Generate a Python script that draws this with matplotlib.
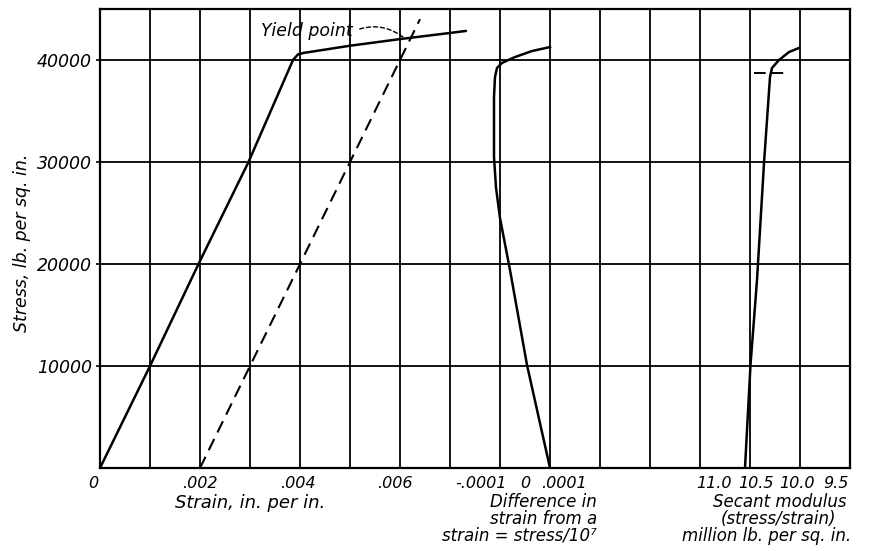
import numpy as np
import matplotlib
matplotlib.use('Agg')
import matplotlib.pyplot as plt
from matplotlib.transforms import ScaledTranslation

plt.rcParams['font.family'] = ['DejaVu Sans']
plt.rcParams['font.style'] = 'italic'

# stress-strain curve
strain = [0, 0.00100, 0.00197, 0.00297, 0.00386, 0.00396, 0.00408, 0.00500, 0.00600, 0.00700, 0.00732]
stress = [0, 10000, 20000, 30000, 40000, 40550, 40700, 41400, 42050, 42650, 42850]

# offset line for yield point
offset_strain = [0.002, 0.0064]
offset_stress = [0, 44000]

# difference in strain from strain = stress/10^7
diff = [0, -0.000046, -0.00008, -0.0001, -0.000108, -0.000112,
        -0.000112, -0.00011, -0.000106, -0.000096, -0.00007, -0.000036, 0]
diff_stress = [0, 10100, 19410, 24500, 27500, 30500,
               36370, 38330, 39220, 39710, 40290, 40880, 41270]

# secant modulus, million lb per sq in
modulus = [10.55, 10.495, 10.43, 10.36, 10.30, 10.28, 10.21, 10.11, 10.01]
mod_stress = [0, 10100, 18430, 29900, 38330, 39220, 40000, 40780, 41180]
yield_mod = [10.46, 10.15]
yield_mod_stress = [38730, 38730]

stress_ticks = [10000, 20000, 30000, 40000]
strain_ticks = [0, 0.002, 0.004, 0.006]
strain_labels = ['0', '.002', '.004', '.006']
diff_ticks = [-0.0001, 0, 0.0001]
diff_labels = ['-.0001', '0', '.0001']
mod_ticks = [11.0, 10.5, 10.0, 9.5]
mod_labels = ['11.0', '10.5', '10.0', '9.5']

fig = plt.figure(figsize=(8.79, 5.51), dpi=100)
rect = [100 / 879, 1 - 468 / 551, 750 / 879, 459 / 551]
ax = fig.add_axes(rect)
ax.set_xlim(0, 0.015)
ax.set_ylim(0, 45000)
ax.set_xticks(np.arange(0, 0.0151, 0.001), minor=True)
ax.set_xticks(strain_ticks, strain_labels)
ax.set_yticks(stress_ticks, [str(s) for s in stress_ticks])
ax.grid(True, which='both', color='black', lw=1.3)
ax.tick_params(axis='x', which='both', length=0, pad=6, labelsize=11.5)
ax.tick_params(axis='y', length=3, width=1.2, pad=3, labelsize=12.5)
for s in ax.spines.values():
    s.set_linewidth(1.6)

ax.plot(strain, stress, color='black', lw=1.8, solid_capstyle='round')
ax.plot(offset_strain, offset_stress, color='black', lw=1.5, dashes=(6, 3.5))

ax.annotate('Yield point', xy=(0.0061, 42100), xytext=(0.00506, 42800),
            ha='right', va='center', fontsize=12.5,
            arrowprops=dict(arrowstyle='-', lw=1.0, linestyle=(0, (3, 2)),
                            connectionstyle='arc3,rad=-0.3', relpos=(1.0, 0.5),
                            shrinkA=3, shrinkB=0))

# difference panel
ax_d = fig.add_axes(rect, sharey=ax)
ax_d.patch.set_visible(False)
for s in ax_d.spines.values():
    s.set_visible(False)
ax_d.set_xlim(-0.0009, 0.0006)
ax_d.set_xticks(diff_ticks, diff_labels)
ax_d.tick_params(axis='x', length=0, pad=6, labelsize=11.5)
ax_d.tick_params(axis='y', left=False, labelleft=False)
ax_d.plot(diff, diff_stress, color='black', lw=1.8)

# secant modulus panel
ax_m = fig.add_axes(rect, sharey=ax)
ax_m.patch.set_visible(False)
for s in ax_m.spines.values():
    s.set_visible(False)
ax_m.set_xlim(17.0, 9.5)
ax_m.set_xticks(mod_ticks, mod_labels)
ax_m.tick_params(axis='x', length=0, pad=6, labelsize=11.5)
ax_m.tick_params(axis='y', left=False, labelleft=False)
ax_m.plot(modulus, mod_stress, color='black', lw=1.8)
ax_m.plot(yield_mod, yield_mod_stress, color='black', lw=1.4, dashes=(6, 3))

# the hand lettered tick labels sit a bit off their grid lines
for a, shifts in ((ax, [-7, 0, -2, -5]), (ax_d, [-19, -25, -36]), (ax_m, [14, 6, -3, -14])):
    for lab, dx in zip(a.get_xticklabels(), shifts):
        lab.set_transform(lab.get_transform() + ScaledTranslation(dx / 100, 0, fig.dpi_scale_trans))

def ypos(px):
    return (468 - px) / 459

ax.text(0.003, ypos(508), 'Strain, in. per in.', transform=ax.get_xaxis_transform(),
        ha='center', va='baseline', fontsize=13)
for txt, base in zip(['Difference in', 'strain from a', 'strain = stress/10⁷'], [507, 524, 541]):
    ax_d.text(0.000094, ypos(base), txt, transform=ax_d.get_xaxis_transform(),
              ha='right', va='baseline', fontsize=12)
for txt, xm, base in zip(['Secant modulus', '(stress/strain)', 'million lb. per sq. in.'],
                         [10.20, 10.22, 10.33], [507, 524, 541]):
    ax_m.text(xm, ypos(base), txt, transform=ax_m.get_xaxis_transform(),
              ha='center', va='baseline', fontsize=12)

fig.text(22 / 879, 1 - 243 / 551, 'Stress, lb. per sq. in.', rotation=90,
         ha='center', va='center', fontsize=12.5)

fig.savefig('out.png', dpi=100)
